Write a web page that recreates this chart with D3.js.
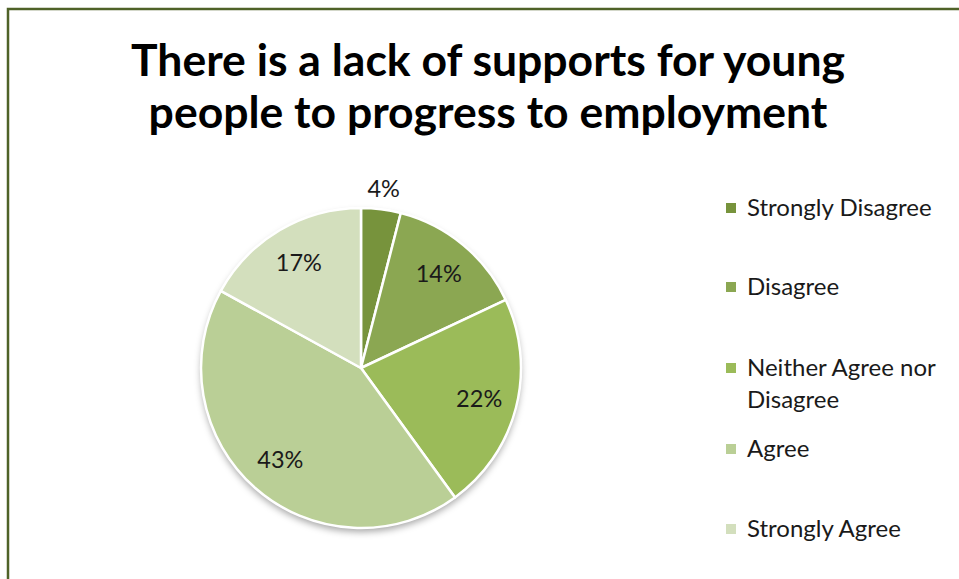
<!DOCTYPE html>
<html>
<head>
<meta charset="utf-8">
<script src="https://cdn.jsdelivr.net/npm/d3@7/dist/d3.min.js"></script>
<style>
  html, body { margin: 0; padding: 0; background: #fff; }
  svg { display: block; }
</style>
</head>
<body>
<svg id="chart" width="959" height="579"></svg>
<script>
// Survey responses (percent of respondents)
const categories = ["Strongly Disagree", "Disagree", "Neither Agree nor Disagree", "Agree", "Strongly Agree"];
const values = [4, 14, 22, 43, 17];
const colors = ["#77933c", "#8ba752", "#9bbb59", "#bacf96", "#d3dfbd"];
const legendLines = [["Strongly Disagree"], ["Disagree"], ["Neither Agree nor", "Disagree"], ["Agree"], ["Strongly Agree"]];
const titleLines = ["There is a lack of supports for young", "people to progress to employment"];

const svg = d3.select("#chart");
const font = "Lato, 'Open Sans', sans-serif";

// frame
svg.append("rect")
  .attr("x", 8).attr("y", 9).attr("width", 1000).attr("height", 700)
  .attr("fill", "#fff").attr("stroke", "#4f6228").attr("stroke-width", 2.5);

// title
svg.append("g").selectAll("text").data(titleLines).join("text")
  .attr("x", 488).attr("y", (d, i) => 76 + i * 52)
  .attr("text-anchor", "middle")
  .attr("font-family", font).attr("font-weight", 700)
  .attr("font-size", 44.5).attr("fill", "#000")
  .text(d => d);

// shadow filter
const defs = svg.append("defs");
const f = defs.append("filter").attr("id", "shadow")
  .attr("x", "-20%").attr("y", "-20%").attr("width", "140%").attr("height", "150%");
f.append("feDropShadow").attr("dx", 0).attr("dy", 4).attr("stdDeviation", 3.5)
  .attr("flood-color", "#000").attr("flood-opacity", 0.35);

const cx = 361, cy = 368, R = 160;
const pie = d3.pie().sort(null).value(d => d)(values);
const arc = d3.arc().innerRadius(0).outerRadius(R);
const labelArc = d3.arc().innerRadius(122).outerRadius(122);
const outerLabelArc = d3.arc().innerRadius(181).outerRadius(181);

const g = svg.append("g").attr("transform", `translate(${cx},${cy})`);
g.append("circle").attr("r", R).attr("fill", "#fff").attr("filter", "url(#shadow)");
g.selectAll("path").data(pie).join("path")
  .attr("d", arc)
  .attr("fill", (d, i) => colors[i])
  .attr("stroke", "#fff").attr("stroke-width", 2.5).attr("stroke-linejoin", "round");

g.selectAll("text.lbl").data(pie).join("text")
  .attr("class", "lbl")
  .attr("transform", d => `translate(${(d.data < 8 ? outerLabelArc : labelArc).centroid(d)})`)
  .attr("text-anchor", "middle").attr("dy", "0.35em")
  .attr("font-family", font).attr("font-size", 23.5).attr("fill", "#1a1a1a")
  .text(d => d.data + "%");

// legend
const legendY = [208, 287, 368, 449, 529];
const lg = svg.append("g");
legendLines.forEach((lines, i) => {
  lg.append("rect")
    .attr("x", 726).attr("y", legendY[i] - 5).attr("width", 10).attr("height", 10)
    .attr("fill", colors[i]);
  lines.forEach((t, j) => {
    lg.append("text")
      .attr("x", 747).attr("y", legendY[i] + j * 32).attr("dy", "0.35em")
      .attr("font-family", font).attr("font-size", 24).attr("fill", "#1a1a1a")
      .text(t);
  });
});
</script>
</body>
</html>
